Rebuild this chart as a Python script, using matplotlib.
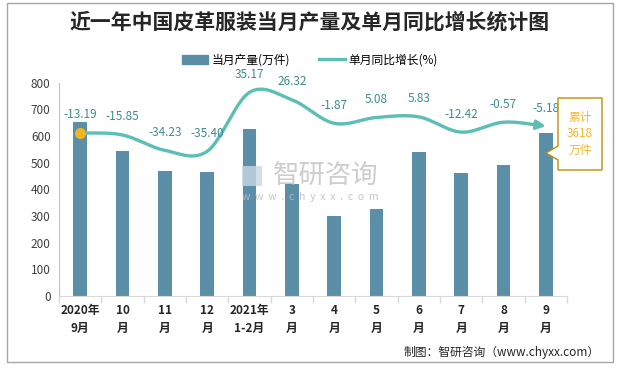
import numpy as np
import matplotlib
matplotlib.use('Agg')
import matplotlib.pyplot as plt
from matplotlib.patches import Rectangle, Polygon
from matplotlib.lines import Line2D

plt.rcParams['font.family'] = ['Noto Sans CJK SC', 'DejaVu Sans']

categories = ['2020年\n9月', '10\n月', '11\n月', '12\n月', '2021年\n1-2月', '3\n月',
              '4\n月', '5\n月', '6\n月', '7\n月', '8\n月', '9\n月']
output = [653, 544, 469, 466, 627, 421, 300, 327, 541, 462, 492, 612]
growth = [-13.19, -15.85, -34.23, -35.40, 35.17, 26.32, -1.87, 5.08, 5.83, -12.42, -0.57, -5.18]
growth_labels = ['-13.19', '-15.85', '-34.23', '-35.40', '35.17', '26.32', '-1.87', '5.08',
                 '5.83', '-12.42', '-0.57', '-5.18']

bar_color = '#5B8FA8'
line_color = '#5BBFB5'
label_color = '#3D8C8E'
W, H = 620, 368


def catmull_rom(x, y, n=30):
    # smooth curve through the points, like excel's smoothed line
    px = np.concatenate([[2 * x[0] - x[1]], x, [2 * x[-1] - x[-2]]])
    py = np.concatenate([[2 * y[0] - y[1]], y, [2 * y[-1] - y[-2]]])
    xs, ys = [], []
    for i in range(1, len(px) - 2):
        t = np.linspace(0, 1, n, endpoint=False)
        for p, out in ((px, xs), (py, ys)):
            p0, p1, p2, p3 = p[i - 1], p[i], p[i + 1], p[i + 2]
            out.extend(0.5 * ((2 * p1) + (-p0 + p2) * t + (2 * p0 - 5 * p1 + 4 * p2 - p3) * t ** 2
                              + (-p0 + 3 * p1 - 3 * p2 + p3) * t ** 3))
    xs.append(x[-1])
    ys.append(y[-1])
    return np.array(xs), np.array(ys)


def fxy(px, py):
    # pixel position (from top-left) -> figure fraction
    return px / W, 1 - py / H


fig = plt.figure(figsize=(6.2, 3.68), dpi=100)
fig.patches.append(Rectangle(fxy(7, 362), 606 / W, 359 / H, transform=fig.transFigure,
                             fill=False, edgecolor='#A6A6A6', linewidth=1))

ax = fig.add_axes([59 / W, 1 - 296 / H, 508 / W, 213.3 / H])
x = np.arange(len(categories))
ax.bar(x, output, width=0.33, color=bar_color, zorder=2)
ax.set_xlim(-0.5, len(categories) - 0.5)
ax.set_ylim(0, 800)
ax.set_yticks(range(0, 801, 100))
ax.tick_params(axis='y', length=0, labelsize=8.5, labelcolor='#404040', pad=6)
ax.set_xticks(x)
ax.set_xticklabels(categories, fontsize=8.5, fontweight='bold', color='#262626', linespacing=1.5)
ax.tick_params(axis='x', which='major', length=0, pad=6)
ax.set_xticks(np.arange(-0.5, len(categories), 1), minor=True)
ax.tick_params(axis='x', which='minor', length=5, color='#D9D9D9', width=1)
for s in ['top', 'right']:
    ax.spines[s].set_visible(False)
ax.spines['left'].set_color('#BFBFBF')
ax.spines['bottom'].set_color('#D9D9D9')

ax2 = ax.twinx()
ax2.set_ylim(-208.5, 46.7)
ax2.axis('off')
cx, cy = catmull_rom(x.astype(float), np.array(growth))
ax2.plot(cx[:-8], cy[:-8], color=line_color, linewidth=2.4, solid_capstyle='round', zorder=3)
ax2.annotate('', xy=(cx[-1], cy[-1]), xytext=(cx[-10], cy[-10]),
             arrowprops=dict(arrowstyle='-|>', color=line_color, lw=2.4, mutation_scale=13,
                             shrinkA=0, shrinkB=0))
ax2.plot(x[0], growth[0], 'o', color='#F0B323', markersize=7, zorder=4)
for xi, g, lab in zip(x, growth, growth_labels):
    ax2.annotate(lab, (xi, g), xytext=(0, 13), textcoords='offset points', ha='center',
                 va='center', fontsize=8.5, color=label_color)

# callout box
pts = [(558, 98), (602, 98), (602, 170), (558, 170), (558, 160), (546, 153), (558, 146)]
box = Polygon([fxy(*p) for p in pts], closed=True, transform=fig.transFigure,
              facecolor='white', edgecolor='#BF9000', linewidth=1, zorder=5)
fig.patches.append(box)
fig.text(*fxy(580, 134), '累计\n3618\n万件', ha='center', va='center', fontsize=8.5,
         color='#F5B731', linespacing=1.3, zorder=6)

# watermark
fig.add_artist(Rectangle(fxy(242, 186), 20 / W, 20 / H, transform=fig.transFigure,
                         facecolor='#C9D6E3', edgecolor='none', alpha=0.8))
fig.text(*fxy(326, 175), '智研咨询', ha='center', va='center', fontsize=19,
         color='#BDBDBD', alpha=0.75)
fig.text(*fxy(310, 197), 'w  w  w  .  c  h  y  x  x  .  c  o  m', ha='center', va='center',
         fontsize=7.5, color='#BDBDBD', alpha=0.85)

fig.text(*fxy(310, 22), '近一年中国皮革服装当月产量及单月同比增长统计图', ha='center', va='center',
         fontsize=15, fontweight='bold', color='#262626')

handles = [Rectangle((0, 0), 1, 1, color=bar_color),
           Line2D([0], [0], color=line_color, linewidth=2.4)]
fig.legend(handles, ['当月产量(万件)', '单月同比增长(%)'], loc='center', ncol=2,
           bbox_to_anchor=fxy(310, 60), frameon=False, fontsize=8.5,
           handlelength=2.2, columnspacing=2.5, handletextpad=0.3)

fig.text(*fxy(600, 352), '制图：智研咨询（www.chyxx.com）', ha='right', va='center',
         fontsize=8.5, color='#262626')

fig.savefig('out.png', dpi=100)
